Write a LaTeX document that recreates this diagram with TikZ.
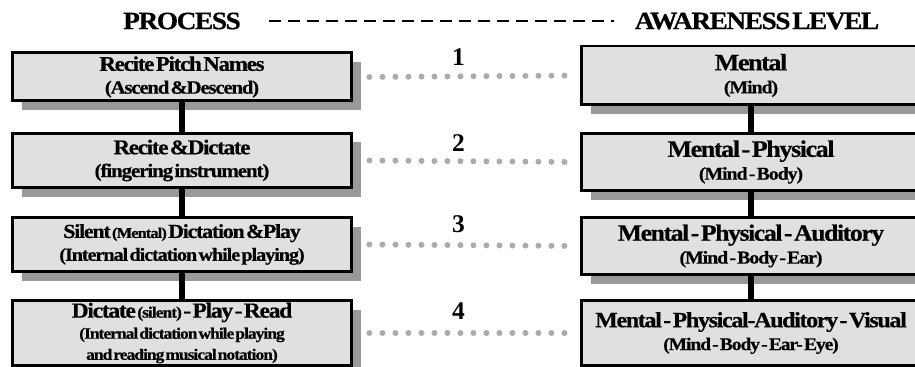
\documentclass[tikz,border=0pt]{standalone}
\usepackage{fontspec}
\setmainfont{Liberation Serif}
\newfontfamily\condfont{Liberation Serif}[FakeStretch=1.1,LetterSpace=-6,WordSpace=0.3,FakeBold=0.5]
\usetikzlibrary{shadows}
\newcommand\fsz[2]{\fontsize{#1}{#2}\selectfont}

\begin{document}
\begin{tikzpicture}[x=0.02cm, y=-0.02cm,
	stepbox/.style={draw=black, line width=0.6mm, fill=black!12, inner sep=0pt, align=center, minimum width=6.8cm, font=\condfont\bfseries,
		drop shadow={shadow xshift=0.19cm, shadow yshift=-0.19cm, fill=black!40, opacity=1}},
	heading/.style={inner sep=0pt, font=\condfont\bfseries\fsz{14.2}{15}},
	stage/.style={inner sep=0pt, color=black, font=\bfseries\fsz{14.5}{15}},
	dots/.style={line width=1.2mm, color=black!33, line cap=round, dash pattern=on 0pt off 0.26cm},
	link/.style={line width=1.2mm, color=black}]
	%%%%% START %%%%%
	
	\useasboundingbox (0, 0) rectangle (915, 367);
	
	\node[heading] (process) at (182, 21) {PROCESS};
	\node[heading] (awareness) at (757, 21) {AWARENESS LEVEL};
	\draw[line width=0.4mm, dash pattern=on 0.24cm off 0.14cm] ([xshift=0.56cm]process.east) -- ([xshift=-0.4cm]awareness.west);
	
	\node[stepbox, minimum height=0.96cm] (recite) at (182, 77) {\fsz{11.9}{13}Recite Pitch Names\\[1pt]\fsz{10.7}{13}(Ascend \&Descend)};
	\node[stepbox, minimum height=1.1cm] (dictate) at (182, 160.5) {\fsz{11.9}{13}Recite \&Dictate\\[1pt]\fsz{10.9}{13}(fingering instrument)};
	\node[stepbox, minimum height=1.1cm] (silent) at (182, 244.5) {\fsz{11.3}{13}Silent {\fsz{8.5}{13}(Mental)} Dictation \&Play\\[1pt]\fsz{10.5}{13}(Internal dictation while playing)};
	\node[stepbox, minimum height=1.32cm] (read) at (182, 333) {\fsz{12.2}{11}Dictate {\fsz{9}{11}(silent)} - Play - Read\\\fsz{9}{10.5}(Internal dictation while playing\\\fsz{9}{10.5}and reading musical notation)};
	
	\node[stepbox, minimum height=1.18cm] (mental) at (751, 75.5) {\fsz{13.5}{15}Mental\\[1pt]\fsz{10.3}{13}(Mind)};
	\node[stepbox, minimum height=1.16cm] (physical) at (751, 162) {\fsz{13.5}{15}Mental - Physical\\[1pt]\fsz{10.3}{13}(Mind - Body)};
	\node[stepbox, minimum height=1.16cm] (auditory) at (751, 246) {\fsz{13.3}{15}Mental - Physical - Auditory\\[1pt]\fsz{10.3}{13}(Mind - Body - Ear)};
	\node[stepbox, minimum height=1.32cm] (visual) at (751, 333) {\fsz{12.4}{15}Mental - Physical-Auditory - Visual\\[1pt]\fsz{10.1}{13}(Mind - Body - Ear- Eye)};
	
	\draw[link] (recite) -- (dictate);
	\draw[link] (dictate) -- (silent);
	\draw[link] (silent) -- (read);
	\draw[link] (mental) -- (physical);
	\draw[link] (physical) -- (auditory);
	\draw[link] (auditory) -- (visual);
	
	\draw[dots] ([xshift=0.32cm]recite.east) -- ([xshift=-0.06cm]mental.west) node[stage, pos=0.43, above=0.16cm] {1};
	\draw[dots] ([xshift=0.32cm]dictate.east) -- ([xshift=-0.06cm]physical.west) node[stage, pos=0.43, above=0.14cm] {2};
	\draw[dots] ([xshift=0.32cm]silent.east) -- ([xshift=-0.06cm]auditory.west) node[stage, pos=0.43, above=0.18cm] {3};
	\draw[dots] ([xshift=0.32cm]read.east) -- ([xshift=-0.06cm]visual.west) node[stage, pos=0.43, above=0.22cm] {4};
	
	%%%%% END %%%%%
\end{tikzpicture}
\end{document}
